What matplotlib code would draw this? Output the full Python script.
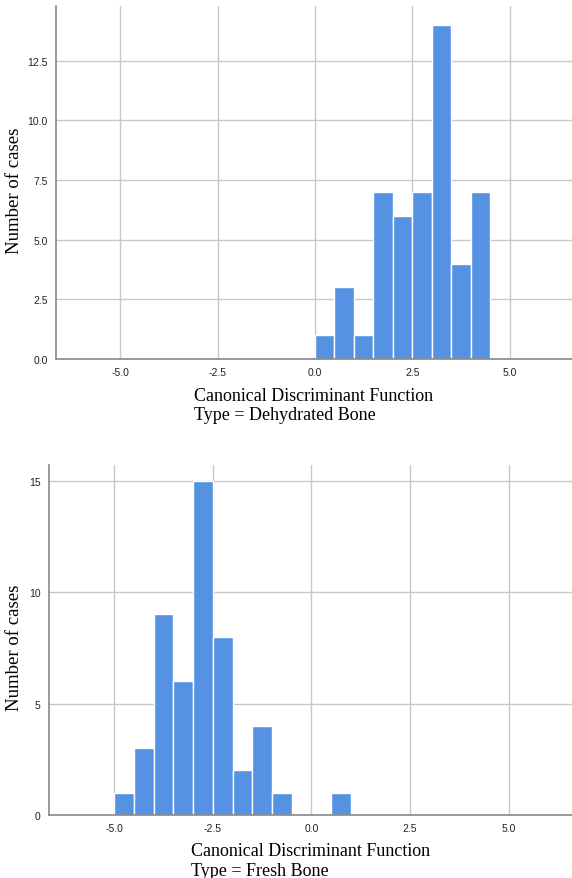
import matplotlib
matplotlib.use("Agg")
import matplotlib.pyplot as plt
import numpy as np

# histogram counts, bin width 0.5
dehydrated_start = 0.0
dehydrated_counts = [1, 3, 1, 7, 6, 7, 14, 4, 7]
fresh_start = -5.0
fresh_counts = [1, 3, 9, 6, 15, 8, 2, 4, 1, 0, 0, 1]
bin_width = 0.5

x_ticks = [-5.0, -2.5, 0.0, 2.5, 5.0]
top_yticks = [0.0, 2.5, 5.0, 7.5, 10.0, 12.5]
bottom_yticks = [0, 5, 10, 15]
xlabel_main = "Canonical Discriminant Function"
types = ["Dehydrated Bone", "Fresh Bone"]

bar_color = "#5592e2"
grid_color = "#c8c8c8"
serif = ["Liberation Serif", "DejaVu Serif"]
sans = ["Liberation Sans", "DejaVu Sans"]

fig = plt.figure(figsize=(5.72, 8.79), dpi=100)
ax1 = fig.add_axes([56 / 572, 1 - 360 / 879, 1 - 56 / 572, 353 / 879])
ax2 = fig.add_axes([49 / 572, 1 - 816 / 879, 1 - 49 / 572, 350 / 879])


def draw(ax, start, counts, yticks, ylim, ytick_fmt, label, ylab_x, xlab_y):
    edges = start + bin_width * np.arange(len(counts) + 1)
    ax.hist(edges[:-1], bins=edges, weights=counts, color=bar_color,
            edgecolor="white", linewidth=1.0, zorder=3)
    ax.set_xlim(-6.65, 6.6)
    ax.set_ylim(*ylim)
    ax.set_xticks(x_ticks)
    ax.set_xticklabels(["%.1f" % v for v in x_ticks])
    ax.set_yticks(yticks)
    ax.set_yticklabels([ytick_fmt % v for v in yticks])
    ax.tick_params(length=0, labelsize=7.5, colors="#222222", pad=6)
    for t in ax.get_xticklabels() + ax.get_yticklabels():
        t.set_family(sans)
    ax.grid(True, color=grid_color, linewidth=1.0, zorder=0)
    ax.set_axisbelow(True)
    for s in ["top", "right"]:
        ax.spines[s].set_visible(False)
    for s in ["left", "bottom"]:
        ax.spines[s].set_color("#888888")
        ax.spines[s].set_linewidth(1.2)
        ax.spines[s].set_zorder(4)
    ax.set_ylabel("Number of cases", family=serif, fontsize=13.5)
    ax.yaxis.set_label_coords(ylab_x, 0.48)
    ax.set_xlabel(xlabel_main + "\nType = " + label, family=serif,
                  fontsize=13, multialignment="left", linespacing=1.2)
    ax.xaxis.set_label_coords(0.5, xlab_y)


draw(ax1, dehydrated_start, dehydrated_counts, top_yticks, (0, 14.8), "%.1f",
     types[0], -0.063, -0.078)
draw(ax2, fresh_start, fresh_counts, bottom_yticks, (0, 15.7), "%d",
     types[1], -0.05, -0.077)

fig.savefig("out.png", dpi=100)
